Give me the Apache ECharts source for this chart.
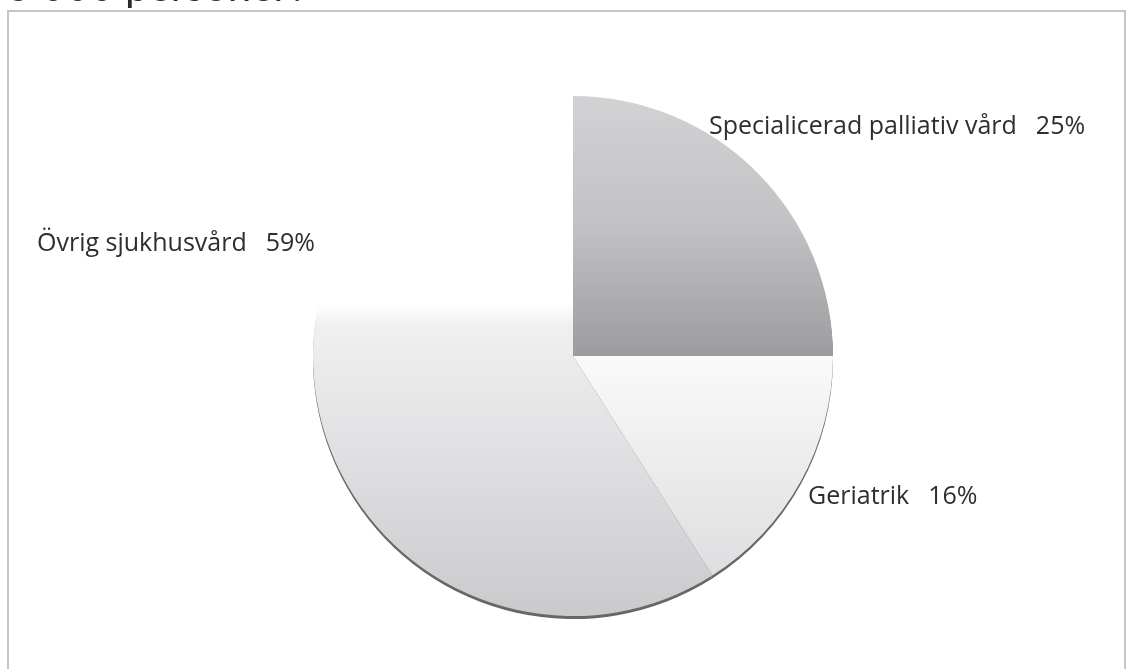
<!DOCTYPE html>
<html>
<head>
<meta charset="utf-8">
<script src="https://cdn.jsdelivr.net/npm/echarts@6/dist/echarts.min.js"></script>
<style>
html,body{margin:0;padding:0;background:#fff;}
#chart{width:1128px;height:669px;}
</style>
</head>
<body>
<div id="chart"></div>
<script>
// Data
const categories = ['Specialicerad palliativ vård', 'Geriatrik', 'Övrig sjukhusvård'];
const values = [25, 16, 59];
const titleText = '6 000 personer?';

// Styles (not data)
const sliceFills = [
  {type:'linear', x:0, y:0, x2:0, y2:1, colorStops:[
    {offset:0, color:'#d2d2d4'}, {offset:0.5, color:'#c2c2c4'}, {offset:1, color:'#9c9c9e'}]},
  {type:'linear', x:0, y:0, x2:0, y2:1, colorStops:[
    {offset:0, color:'#fafafa'}, {offset:1, color:'#dedee0'}]},
  {type:'linear', x:0, y:0, x2:0, y2:1, colorStops:[
    {offset:0, color:'#ffffff'}, {offset:0.40, color:'#ffffff'},
    {offset:0.44, color:'#f0f0f1'}, {offset:0.7, color:'#dfdfe1'}, {offset:1, color:'#cacacc'}]}
];
const labelPos = [
  {x:709, y:127},
  {x:808, y:497},
  {x:37, y:244}
];

const chart = echarts.init(document.getElementById('chart'));
chart.setOption({
  backgroundColor:'#ffffff',
  animation:false,
  graphic:[
    {type:'rect', shape:{x:8, y:11, width:1117, height:700},
     style:{fill:'none', stroke:'#c6c6c6', lineWidth:2}, silent:true},
    {type:'text', x:6, y:8,
     style:{text:titleText, font:'42px Lato', fill:'#2a2a2a', textVerticalAlign:'bottom'}, silent:true}
  ],
  series:[{
    type:'pie',
    center:[573, 356],
    radius:[0, 260],
    startAngle:90,
    clockwise:true,
    avoidLabelOverlap:false,
    data: categories.map((n,i)=>({
      name:n, value:values[i],
      itemStyle:{color:sliceFills[i]}
    })),
    itemStyle:{
      borderWidth:0,
      shadowColor:'rgba(95,95,95,0.95)', shadowOffsetY:3, shadowBlur:0
    },
    label:{
      show:true,
      formatter: p => p.name + '{s|}' + p.value + '%',
      fontFamily:'Open Sans', fontSize:25, fontWeight:500, color:'#2e2e2e',
      rich:{s:{width:19}}
    },
    labelLine:{show:false},
    labelLayout: p => ({x:labelPos[p.dataIndex].x, y:labelPos[p.dataIndex].y, align:'left', verticalAlign:'middle'}),
    emphasis:{disabled:true}
  }]
});
</script>
</body>
</html>
